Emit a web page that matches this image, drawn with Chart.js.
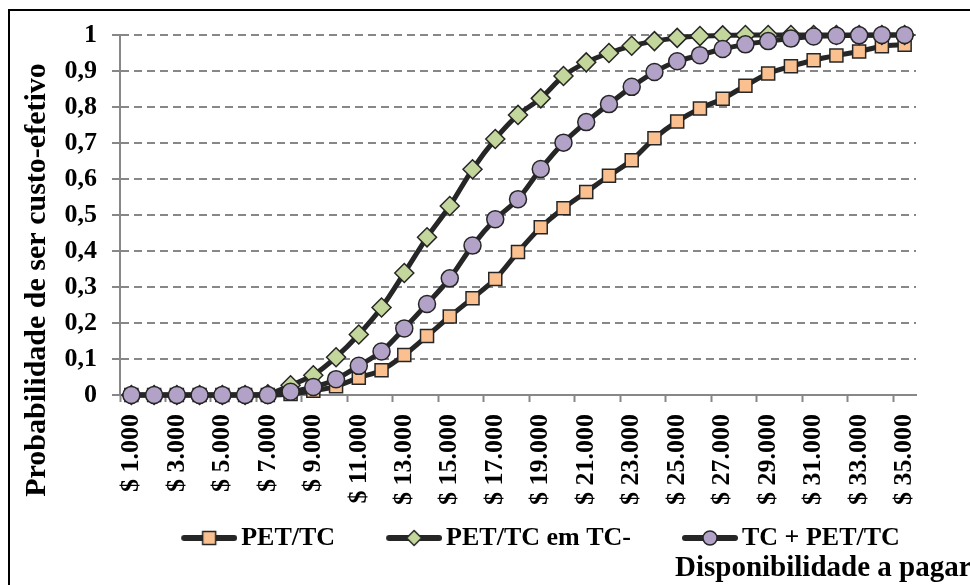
<!DOCTYPE html>
<html><head><meta charset="utf-8">
<script src="https://cdn.jsdelivr.net/npm/chart.js@4.4.1/dist/chart.umd.min.js"></script>
<style>
html,body{margin:0;padding:0;background:#fff;overflow:hidden;width:970px;height:585px}
#wrap{position:absolute;left:0;top:0;width:1090px;height:585px}
</style>
</head><body><div id="wrap"><canvas id="c" width="1090" height="585"></canvas></div>
<script>
const categories = ['$ 1.000','$ 2.000','$ 3.000','$ 4.000','$ 5.000','$ 6.000','$ 7.000','$ 8.000','$ 9.000','$ 10.000',
  '$ 11.000','$ 12.000','$ 13.000','$ 14.000','$ 15.000','$ 16.000','$ 17.000','$ 18.000','$ 19.000','$ 20.000',
  '$ 21.000','$ 22.000','$ 23.000','$ 24.000','$ 25.000','$ 26.000','$ 27.000','$ 28.000','$ 29.000','$ 30.000',
  '$ 31.000','$ 32.000','$ 33.000','$ 34.000','$ 35.000'];
const petTc = [0,0,0,0,0,0,0,0.003,0.012,0.024,0.048,0.069,0.111,0.164,0.218,0.269,0.322,0.397,0.466,0.519,
  0.564,0.609,0.652,0.713,0.760,0.796,0.823,0.859,0.893,0.913,0.930,0.943,0.954,0.969,0.973];
const petTcEmTcNeg = [0,0,0,0,0,0,0.002,0.027,0.055,0.105,0.168,0.243,0.339,0.438,0.525,0.627,0.711,0.778,0.824,0.886,
  0.924,0.950,0.970,0.983,0.992,0.997,0.999,1,1,1,1,1,1,1,1];
const tcPetTc = [0,0,0,0,0,0,0,0.009,0.022,0.044,0.081,0.121,0.185,0.253,0.324,0.415,0.488,0.544,0.628,0.701,
  0.758,0.808,0.856,0.897,0.927,0.944,0.961,0.974,0.983,0.990,0.996,0.998,0.999,1,1];
const seriesNames = ['PET/TC','PET/TC em TC-','TC + PET/TC'];
const yAxisTitle = 'Probabilidade de ser custo-efetivo';
const xAxisTitle = 'Disponibilidade a pagar';

const FONT = "'Liberation Serif','Times New Roman',serif";
const LINE = '#262626';
const GRID = '#878787';
const COLORS = ['#FAC090','#C3D69B','#B3A2C7'];

Chart.defaults.font.family = FONT;
Chart.defaults.color = '#000';

// legend symbol: 96px wide canvas, visible line in its right part (x 43..93), marker at 68
function makeIcon(kind, fill) {
  const c = document.createElement('canvas'); c.width = 96; c.height = 20;
  const g = c.getContext('2d');
  g.strokeStyle = LINE; g.lineWidth = 6; g.lineCap = 'round';
  g.beginPath(); g.moveTo(43,10); g.lineTo(93,10); g.stroke();
  g.fillStyle = fill; g.lineWidth = 1.5; g.strokeStyle = LINE;
  g.beginPath();
  const cx = 68;
  if (kind === 'rect') g.rect(cx - 6.5, 3.5, 13, 13);
  else if (kind === 'diamond') { g.moveTo(cx,2.5); g.lineTo(cx+7.5,10); g.lineTo(cx,17.5); g.lineTo(cx-7.5,10); g.closePath(); }
  else g.arc(cx,10,7,0,Math.PI*2);
  g.fill(); g.stroke();
  return c;
}
const legendIcons = [makeIcon('rect',COLORS[0]), makeIcon('diamond',COLORS[1]), makeIcon('circle',COLORS[2])];

const decor = {
  id: 'decor',
  beforeDraw(chart) {
    const g = chart.ctx; g.save(); g.fillStyle = '#fff'; g.fillRect(0,0,chart.width,chart.height); g.restore();
  },
  afterDraw(chart) {
    const g = chart.ctx;
    g.save();
    g.strokeStyle = '#000'; g.lineWidth = 2;
    g.beginPath(); g.moveTo(9, chart.height); g.lineTo(9, 10); g.lineTo(chart.width, 10); g.stroke();
    g.restore();
    g.save();
    g.fillStyle = '#000'; g.font = 'bold 30px ' + FONT;
    g.translate(45, 280); g.rotate(-Math.PI/2);
    g.textAlign = 'center'; g.textBaseline = 'alphabetic';
    g.fillText(yAxisTitle, 0, 0);
    g.restore();
    g.save();
    g.fillStyle = '#000'; g.font = 'bold 29px ' + FONT;
    g.textAlign = 'left'; g.textBaseline = 'alphabetic';
    g.fillText(xAxisTitle, 675, 576);
    g.restore();
  }
};

function ds(i, data, style, radius, order) {
  return {
    label: seriesNames[i], data, order,
    borderColor: LINE, borderWidth: 5, tension: 0.3, fill: false, clip: false,
    pointStyle: style, pointRadius: radius, pointHoverRadius: radius,
    pointBackgroundColor: COLORS[i], pointBorderColor: LINE, pointBorderWidth: 1.5
  };
}

new Chart(document.getElementById('c'), {
  type: 'line',
  data: {
    labels: categories,
    datasets: [
      ds(0, petTc, 'rect', 9.2, 2),
      ds(1, petTcEmTcNeg, 'rectRot', 9.5, 1),
      ds(2, tcPetTc, 'circle', 8.5, 0)
    ]
  },
  plugins: [decor],
  options: {
    responsive: false,
    animation: false,
    events: [],
    layout: { padding: { left: 0, right: 40, top: 35, bottom: 24 } },
    plugins: {
      tooltip: { enabled: false },
      legend: {
        position: 'bottom', align: 'center',
        labels: {
          usePointStyle: true, pointStyleWidth: 78, padding: 20,
          color: '#000', font: { size: 26, weight: 'bold' },
          sort: (a, b) => a.datasetIndex - b.datasetIndex,
          generateLabels: chart => {
            const items = Chart.defaults.plugins.legend.labels.generateLabels(chart);
            items.forEach(it => { it.pointStyle = legendIcons[it.datasetIndex]; it.fontColor = '#000'; });
            return items;
          }
        }
      }
    },
    scales: {
      x: {
        type: 'category', offset: true,
        grid: {
          offset: true, drawOnChartArea: false, drawTicks: true, tickLength: 7, tickWidth: 2,
          tickColor: c => (c.index % 2 === 0 ? GRID : 'rgba(0,0,0,0)')
        },
        border: { color: GRID, width: 2 },
        ticks: {
          autoSkip: false, maxRotation: 90, minRotation: 90, padding: 12,
          color: '#000', font: { size: 26, weight: 'bold' },
          callback: (v, i) => (i % 2 === 0 ? categories[i] : '')
        },
        afterFit: s => { s.height = 110; }
      },
      y: {
        min: 0, max: 1,
        ticks: {
          stepSize: 0.1, padding: 15, color: '#000', font: { size: 26, weight: 'bold' },
          callback: v => { const r = Math.round(v * 10) / 10; return r === 0 ? '0' : r === 1 ? '1' : r.toFixed(1).replace('.', ','); }
        },
        grid: {
          color: c => (c.tick && Math.abs(c.tick.value) < 1e-9 ? 'rgba(0,0,0,0)' : GRID),
          lineWidth: 2, tickLength: 8, tickColor: GRID, tickWidth: 2
        },
        border: { color: GRID, width: 2, dash: [8, 5] },
        afterFit: s => { s.width = 120; }
      },
      y2: {
        position: 'right', display: true, min: 0, max: 1,
        ticks: { display: false }, grid: { display: false }, border: { display: false },
        afterFit: s => { s.width = 134; }
      }
    }
  }
});
</script>
</body></html>
